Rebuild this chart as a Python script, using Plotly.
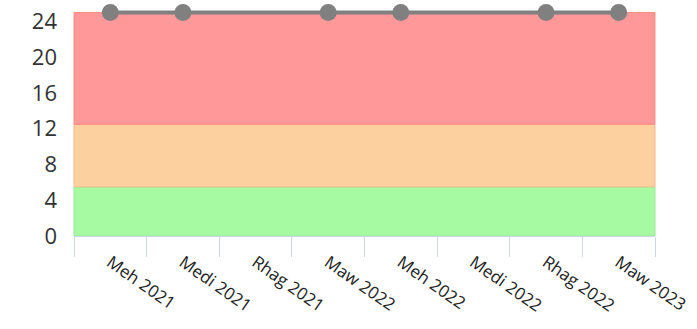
import plotly.graph_objects as go

# Month categories along the x axis
categories = ["Meh 2021", "Medi 2021", "Rhag 2021", "Maw 2022",
              "Meh 2022", "Medi 2022", "Rhag 2022", "Maw 2023"]

# Recorded readings
point_months = ["Meh 2021", "Medi 2021", "Maw 2022", "Meh 2022", "Rhag 2022", "Maw 2023"]
point_values = [25, 25, 25, 25, 25, 25]

# Background rating bands (lower, upper) and their colours
band_lower = [0, 5.5, 12.5]
band_upper = [5.5, 12.5, 25]
band_fill = ["#a6fba2", "#fdd09f", "#ff9999"]
band_edge = ["#9de89a", "#f7b98f", "#ff8a80"]

y_ticks = [0, 4, 8, 12, 16, 20, 24]

fig = go.Figure()

for lo, hi, fc, ec in zip(band_lower, band_upper, band_fill, band_edge):
    fig.add_shape(type="rect", xref="x domain", yref="y",
                  x0=0, x1=1, y0=lo, y1=hi,
                  fillcolor=fc, line=dict(color=ec, width=1), layer="below")

fig.add_trace(go.Scatter(
    x=point_months, y=point_values, mode="lines+markers",
    line=dict(color="#808080", width=4),
    marker=dict(color="#808080", size=17),
    cliponaxis=False, hoverinfo="x+y",
))

fig.update_layout(
    width=697, height=329,
    margin=dict(l=74, r=42, t=5, b=93),
    paper_bgcolor="white", plot_bgcolor="white",
    showlegend=False,
    font=dict(family="Open Sans", color="#333333"),
    xaxis=dict(
        type="category", categoryorder="array", categoryarray=categories,
        range=[-0.5, len(categories) - 0.5],
        tickson="boundaries", ticks="outside", ticklen=20,
        tickcolor="#ccd6eb", tickwidth=1,
        showline=True, linecolor="#ccd6eb",
        showgrid=False, zeroline=False,
        tickangle=35, tickfont=dict(size=17, color="#222222"),
        ticklabelstandoff=9,
    ),
    yaxis=dict(
        range=[0, 25.4], tickvals=y_ticks, showgrid=False, zeroline=False,
        showline=False, ticks="", tickfont=dict(size=22, color="#333333"),
        ticklabelstandoff=16,
    ),
)

fig.write_html("out.html")
